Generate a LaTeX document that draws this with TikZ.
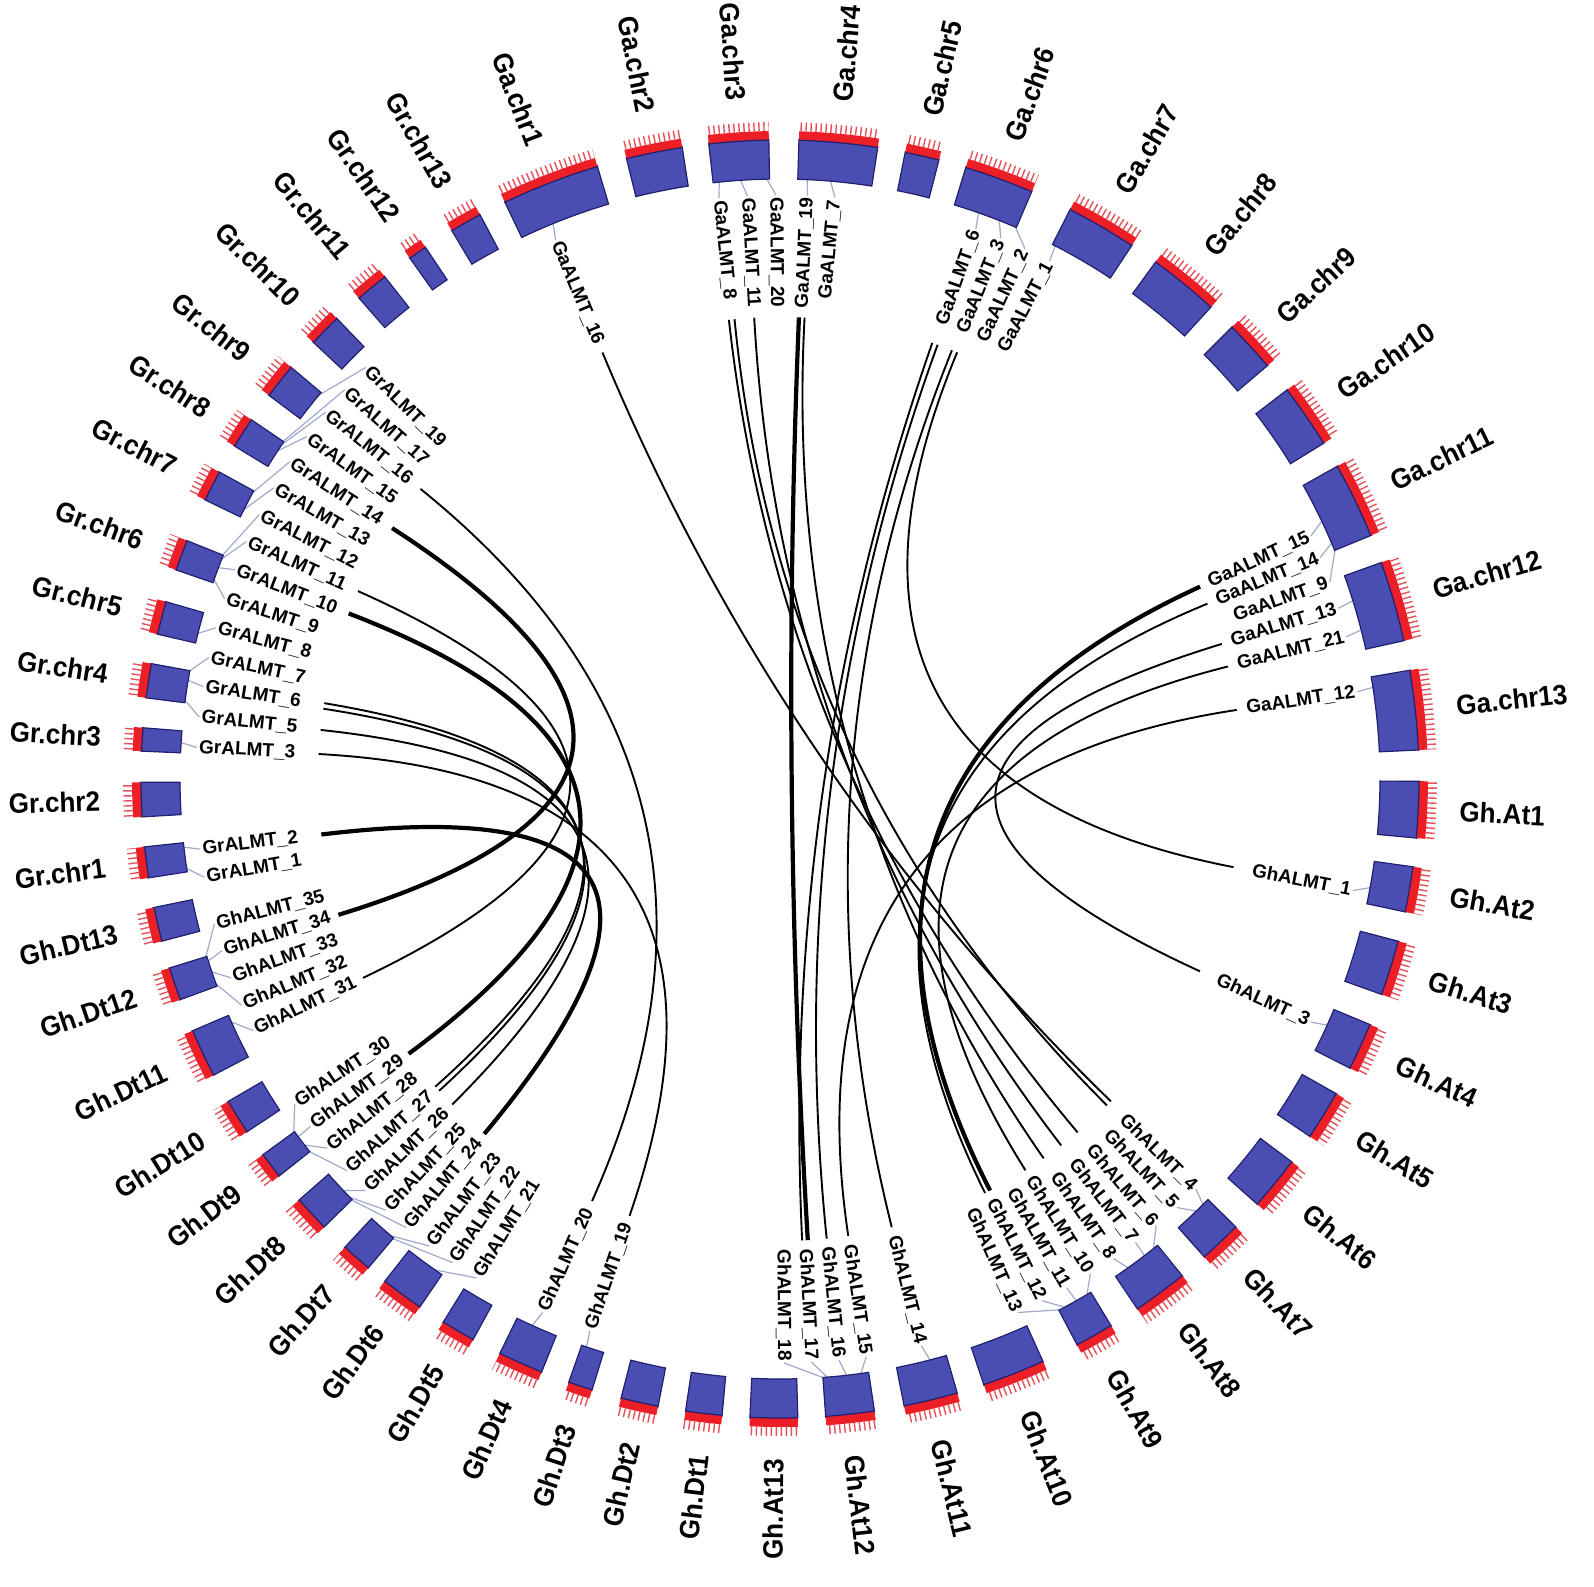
\documentclass[tikz,border=0pt]{standalone}
\usepackage{fontspec}
\setmainfont{Liberation Sans}
\newfontfamily\chrfont{Liberation Sans}[FakeStretch=0.93]
\usetikzlibrary{calc}

\definecolor{chrblue}{RGB}{74,78,178}
\definecolor{chrnavy}{RGB}{32,32,112}
\definecolor{chrred}{RGB}{236,30,38}
\definecolor{tickred}{RGB}{230,80,90}
\definecolor{leadgray}{RGB}{160,170,204}

\tikzset{
  chrlbl/.style={font=\chrfont\bfseries\fontsize{14}{16}\selectfont, inner sep=0pt},
  genelbl/.style={font=\bfseries\fontsize{9.5}{11}\selectfont, inner sep=0pt},
  leader/.style={leadgray, line width=0.6pt},
  link/.style={black, line width=0.95pt},
  heavy/.style={line width=2.1pt},
}

% one chromosome: start angle, end angle (clockwise from top), text, name
\newcommand\chrom[4]{%
  \pgfmathsetmacro\chA{90-(#1)}%
  \pgfmathsetmacro\chB{90-(#2)}%
  \pgfmathsetmacro\chM{90-((#1)+(#2))/2}%
  \pgfmathsetmacro\chC{cos(\chM)}%
  \filldraw[fill=chrblue, draw=chrnavy, line width=0.6pt] (\chA:600) arc[start angle=\chA, end angle=\chB, radius=600]
    -- (\chB:640) arc[start angle=\chB, end angle=\chA, radius=640] -- cycle;
  \fill[chrred] (\chA:639) arc[start angle=\chA, end angle=\chB, radius=639]
    -- (\chB:648) arc[start angle=\chB, end angle=\chA, radius=648] -- cycle;
  \draw[chrnavy, line width=0.6pt] (\chA:639) arc[start angle=\chA, end angle=\chB, radius=639];
  \draw[tickred, line width=4.5pt, dash pattern=on 0.7pt off 1.8pt] ({\chA-0.1}:652.5) arc[start angle=\chA-0.1, end angle=\chB, radius=652.5];
  \ifdim\chC pt<0pt
    \node[chrlbl, anchor=east, rotate=\chM+180] (#4) at (\chM:680) {#3};
  \else
    \node[chrlbl, anchor=west, rotate=\chM] (#4) at (\chM:680) {#3};
  \fi
}

% one gene label: name, label angle, gene angle, text
\newcommand\genelab[4]{%
  \pgfmathsetmacro\glA{90-(#2)}%
  \pgfmathsetmacro\glG{90-(#3)}%
  \pgfmathsetmacro\glC{cos(\glA)}%
  \draw[leader] (\glA:584) -- (\glG:601);
  \ifdim\glC pt<0pt
    \node[genelbl, anchor=west, rotate=\glA+180] (#1) at (\glA:582) {#4};
  \else
    \node[genelbl, anchor=east, rotate=\glA] (#1) at (\glA:582) {#4};
  \fi
  \coordinate (#1-l) at (\glA:462);
  \coordinate (#1-a) at ({\glA+0.35}:462);
  \coordinate (#1-b) at ({\glA-0.35}:462);
}

\newcommand\lnk[3][]{\draw[link,#1] (#2) .. controls ($(#2)!0.6667!(o)$) and ($(#3)!0.6667!(o)$) .. (#3);}

\begin{document}
\begin{tikzpicture}[x=0.5pt, y=0.5pt]
  \useasboundingbox (-780,-807) rectangle (814,779);
  \coordinate (o) at (0,0);

  % gene labels
  \genelab{ga16}{-22.6}{-22.2}{GaALMT\_16}
  \genelab{ga8}{-6.0}{-5.8}{GaALMT\_8}
  \genelab{ga11}{-3.2}{-3.8}{GaALMT\_11}
  \genelab{ga20}{-0.4}{-1.3}{GaALMT\_20}
  \genelab{ga19}{2.7}{2.6}{GaALMT\_19}
  \genelab{ga7}{5.4}{4.8}{GaALMT\_7}
  \genelab{ga6}{19.6}{19.3}{GaALMT\_6}
  \genelab{ga3}{22.2}{21.4}{GaALMT\_3}
  \genelab{ga2}{24.8}{23.0}{GaALMT\_2}
  \genelab{ga1}{27.5}{27.3}{GaALMT\_1}
  \genelab{ga15}{65.4}{64.5}{GaALMT\_15}
  \genelab{ga14}{67.7}{66.8}{GaALMT\_14}
  \genelab{ga9}{70.3}{67.5}{GaALMT\_9}
  \genelab{ga13}{73.0}{72.7}{GaALMT\_13}
  \genelab{ga21}{75.9}{75.6}{GaALMT\_21}
  \genelab{ga12}{81.4}{81.2}{GaALMT\_12}
  \genelab{gh1}{101.0}{100.4}{GhALMT\_1}
  \genelab{gh3}{114.6}{114.2}{GhALMT\_3}
  \genelab{gh4}{134.6}{135.2}{GhALMT\_4}
  \genelab{gh5}{137.2}{136.0}{GhALMT\_5}
  \genelab{gh6}{139.9}{141.6}{GhALMT\_6}
  \genelab{gh7}{142.5}{142.6}{GhALMT\_7}
  \genelab{gh8}{145.2}{144.5}{GhALMT\_8}
  \genelab{gh10}{147.9}{149.3}{GhALMT\_10}
  \genelab{gh11}{150.6}{150.4}{GhALMT\_11}
  \genelab{gh12}{153.3}{151.6}{GhALMT\_12}
  \genelab{gh13}{156.0}{152.0}{GhALMT\_13}
  \genelab{gh14}{166.0}{165.5}{GhALMT\_14}
  \genelab{gh15}{171.5}{172.3}{GhALMT\_15}
  \genelab{gh16}{174.2}{173.6}{GhALMT\_16}
  \genelab{gh17}{176.9}{175.4}{GhALMT\_17}
  \genelab{gh18}{179.6}{175.7}{GhALMT\_18}
  \genelab{gh19}{199.0}{198.8}{GhALMT\_19}
  \genelab{gh20}{204.0}{204.4}{GhALMT\_20}
  \genelab{gh21}{211.3}{215.3}{GhALMT\_21}
  \genelab{gh22}{214.1}{220.1}{GhALMT\_22}
  \genelab{gh23}{216.9}{220.6}{GhALMT\_23}
  \genelab{gh24}{219.8}{225.6}{GhALMT\_24}
  \genelab{gh25}{222.4}{226.0}{GhALMT\_25}
  \genelab{gh26}{225.2}{226.8}{GhALMT\_26}
  \genelab{gh27}{227.9}{231.8}{GhALMT\_27}
  \genelab{gh28}{230.8}{232.5}{GhALMT\_28}
  \genelab{gh29}{233.5}{233.4}{GhALMT\_29}
  \genelab{gh30}{236.2}{234.0}{GhALMT\_30}
  \genelab{gh31}{244.5}{246.2}{GhALMT\_31}
  \genelab{gh32}{247.2}{250.2}{GhALMT\_32}
  \genelab{gh33}{250.1}{251.3}{GhALMT\_33}
  \genelab{gh34}{252.9}{252.3}{GhALMT\_34}
  \genelab{gh35}{255.6}{252.8}{GhALMT\_35}
  \genelab{gr1}{260.3}{261.5}{GrALMT\_1}
  \genelab{gr2}{263.1}{263.5}{GrALMT\_2}
  \genelab{gr3}{273.1}{273.5}{GrALMT\_3}
  \genelab{gr5}{276.1}{277.6}{GrALMT\_5}
  \genelab{gr6}{279.1}{279.5}{GrALMT\_6}
  \genelab{gr7}{282.0}{280.3}{GrALMT\_7}
  \genelab{gr8}{285.0}{284.0}{GrALMT\_8}
  \genelab{gr9}{288.0}{289.5}{GrALMT\_9}
  \genelab{gr10}{291.0}{290.6}{GrALMT\_10}
  \genelab{gr11}{294.0}{291.4}{GrALMT\_11}
  \genelab{gr12}{296.9}{291.8}{GrALMT\_12}
  \genelab{gr13}{299.9}{296.5}{GrALMT\_13}
  \genelab{gr14}{302.9}{298.3}{GrALMT\_14}
  \genelab{gr15}{305.9}{303.0}{GrALMT\_15}
  \genelab{gr16}{308.9}{303.6}{GrALMT\_16}
  \genelab{gr17}{311.8}{304.1}{GrALMT\_17}
  \genelab{gr19}{314.8}{309.5}{GrALMT\_19}

  % chromosomes
  \chrom{-25.5}{-16.6}{Ga.chr1}{gac1}
  \chrom{-13.9}{-8.8}{Ga.chr2}{gac2}
  \chrom{-6.4}{-1.0}{Ga.chr3}{gac3}
  \chrom{1.7}{8.8}{Ga.chr4}{gac4}
  \chrom{11.3}{14.4}{Ga.chr5}{gac5}
  \chrom{16.9}{23.2}{Ga.chr6}{gac6}
  \chrom{27.0}{33.4}{Ga.chr7}{gac7}
  \chrom{36.0}{42.4}{Ga.chr8}{gac8}
  \chrom{45.0}{49.7}{Ga.chr9}{gac9}
  \chrom{52.5}{58.3}{Ga.chr10}{gac10}
  \chrom{60.7}{67.6}{Ga.chr11}{gac11}
  \chrom{70.2}{77.5}{Ga.chr12}{gac12}
  \chrom{80.2}{87.4}{Ga.chr13}{gac13}
  \chrom{90.2}{95.3}{Gh.At1}{ghat1}
  \chrom{97.9}{102.0}{Gh.At2}{ghat2}
  \chrom{104.7}{109.7}{Gh.At3}{ghat3}
  \chrom{112.6}{116.9}{Gh.At4}{ghat4}
  \chrom{119.5}{124.0}{Gh.At5}{ghat5}
  \chrom{126.8}{131.7}{Gh.At6}{ghat6}
  \chrom{134.5}{138.4}{Gh.At7}{ghat7}
  \chrom{141.0}{146.0}{Gh.At8}{ghat8}
  \chrom{148.8}{152.3}{Gh.At9}{ghat9}
  \chrom{155.7}{161.4}{Gh.At10}{ghat10}
  \chrom{163.9}{168.8}{Gh.At11}{ghat11}
  \chrom{171.5}{175.9}{Gh.At12}{ghat12}
  \chrom{178.4}{182.7}{Gh.At13}{ghat13}
  \chrom{185.2}{188.5}{Gh.Dt1}{ghdt1}
  \chrom{191.0}{194.4}{Gh.Dt2}{ghdt2}
  \chrom{197.1}{199.3}{Gh.Dt3}{ghdt3}
  \chrom{201.9}{206.0}{Gh.Dt4}{ghdt4}
  \chrom{208.7}{211.8}{Gh.Dt5}{ghdt5}
  \chrom{214.3}{218.2}{Gh.Dt6}{ghdt6}
  \chrom{220.1}{222.9}{Gh.Dt7}{ghdt7}
  \chrom{225.5}{228.8}{Gh.Dt8}{ghdt8}
  \chrom{231.6}{234.0}{Gh.Dt9}{ghdt9}
  \chrom{236.5}{239.7}{Gh.Dt10}{ghdt10}
  \chrom{242.4}{246.8}{Gh.Dt11}{ghdt11}
  \chrom{249.8}{252.8}{Gh.Dt12}{ghdt12}
  \chrom{255.3}{258.4}{Gh.Dt13}{ghdt13}
  \chrom{261.1}{263.9}{Gr.chr1}{grc1}
  \chrom{266.6}{269.7}{Gr.chr2}{grc2}
  \chrom{272.5}{274.6}{Gr.chr3}{grc3}
  \chrom{277.3}{280.4}{Gr.chr4}{grc4}
  \chrom{283.1}{286.1}{Gr.chr5}{grc5}
  \chrom{289.1}{291.9}{Gr.chr6}{grc6}
  \chrom{295.9}{298.7}{Gr.chr7}{grc7}
  \chrom{301.4}{304.2}{Gr.chr8}{grc8}
  \chrom{306.9}{310.1}{Gr.chr9}{grc9}
  \chrom{313.1}{316.1}{Gr.chr10}{grc10}
  \chrom{318.8}{321.8}{Gr.chr11}{grc11}
  \chrom{324.6}{326.3}{Gr.chr12}{grc12}
  \chrom{329.1}{332.0}{Gr.chr13}{grc13}

  % links Ga - Gh.At
  \lnk{ga16-l}{gh4-a}
  \lnk{ga8-a}{gh6-l}
  \lnk{ga8-b}{gh4-b}
  \lnk{ga11-l}{gh7-l}
  \lnk[heavy]{ga19-a}{gh17-a}
  \lnk{ga19-b}{gh8-l}
  \lnk{ga6-a}{gh17-b}
  \lnk{ga6-b}{gh16-l}
  \lnk{ga3-a}{gh14-l}
  \lnk{ga3-b}{gh1-l}
  \lnk[heavy]{ga15-l}{gh12-a}
  \lnk{ga14-l}{gh12-b}
  \lnk{ga13-l}{gh3-l}
  \lnk{ga21-l}{gh10-l}
  \lnk{ga12-l}{gh15-l}
  % links Gr - Gh.Dt
  \lnk{gr16-l}{gh20-l}
  \lnk[heavy]{gr14-l}{gh34-l}
  \lnk{gr11-l}{gh31-l}
  \lnk[heavy]{gr10-l}{gh29-l}
  \lnk{gr6-a}{gh27-a}
  \lnk{gr6-b}{gh27-b}
  \lnk{gr5-l}{gh26-l}
  \lnk{gr3-l}{gh19-l}
  \lnk[heavy]{gr2-l}{gh24-l}
\end{tikzpicture}
\end{document}
